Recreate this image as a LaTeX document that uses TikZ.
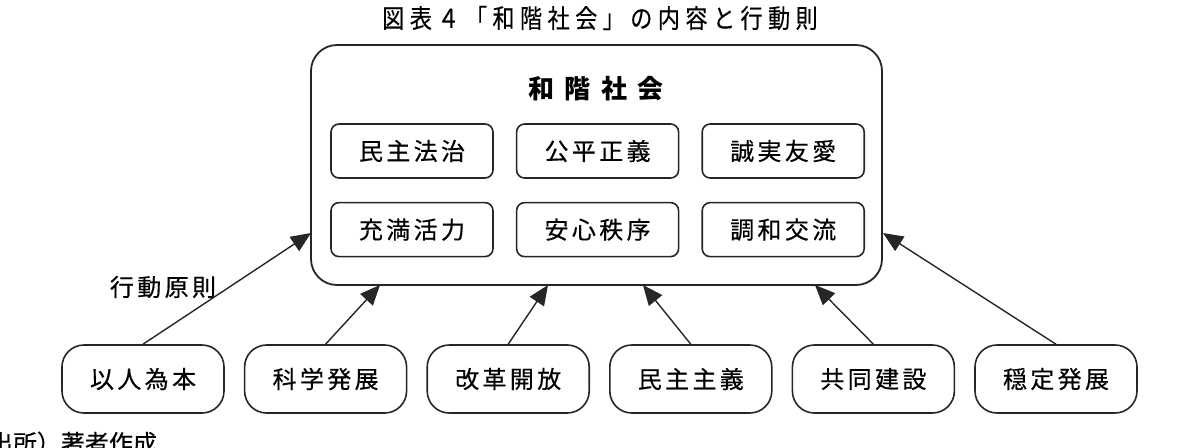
\documentclass[tikz,border=0pt]{standalone}
\usepackage{fontspec}
\setmainfont{Noto Sans CJK JP}
\newfontfamily\boxfont[LetterSpace=14, FakeBold=0.4]{Noto Sans CJK JP}
\newfontfamily\headfont[LetterSpace=40]{Noto Sans CJK JP}
\newfontfamily\titlefont[LetterSpace=21, FakeStretch=0.85, FakeBold=0.3]{Noto Sans CJK JP}
\newfontfamily\notefont[FakeBold=0.3]{Noto Sans CJK JP}
\usetikzlibrary{arrows.meta, positioning}
\tikzset{
  society/.style={rectangle, rounded corners=13pt, draw=black!85, line width=0.9pt,
                  minimum width=285.5pt, minimum height=120pt},
  value/.style={rectangle, rounded corners=4pt, draw=black!85, line width=0.8pt,
                minimum width=81pt, minimum height=27pt, inner sep=0pt,
                font=\boxfont\fontsize{12pt}{14pt}\selectfont},
  principle/.style={rectangle, rounded corners=11pt, draw=black!85, line width=0.8pt,
                    minimum width=81pt, minimum height=34pt, inner sep=0pt,
                    font=\boxfont\fontsize{12pt}{14pt}\selectfont},
  arrow/.style={-{Triangle[length=10pt, width=8.5pt]}, line width=0.7pt, black!85},
}

\begin{document}
\begin{tikzpicture}[x=0.5pt, y=-0.5pt, node distance=11.5pt and 11pt]
  \useasboundingbox (0,0) rectangle (1180,447);

  % --- Title ---
  \node[font=\titlefont\fontsize{13pt}{15pt}\selectfont] (title) at (600,18)
        {図表４「和階社会」の内容と行動則};

  % --- Society box ---
  \node[society] (soc) at (596.5,165) {};
  \node[font=\headfont\bfseries\fontsize{13pt}{15pt}\selectfont] (soctitle) at (596,89) {和階社会};

  % --- Contents ---
  \node[value] (a1) at (412,151) {民主法治};
  \node[value, right=of a1] (a2) {公平正義};
  \node[value, right=of a2] (a3) {誠実友愛};
  \node[value, below=of a1] (b1) {充満活力};
  \node[value, below=of a2] (b2) {安心秩序};
  \node[value, below=of a3] (b3) {調和交流};

  % --- Principles ---
  \node[principle] (p1) at (143,379) {以人為本};
  \node[principle, right=9.5pt of p1] (p2) {科学発展};
  \node[principle, right=9.5pt of p2] (p3) {改革開放};
  \node[principle, right=9.5pt of p3] (p4) {民主主義};
  \node[principle, right=9.5pt of p4] (p5) {共同建設};
  \node[principle, right=9.5pt of p5] (p6) {穏定発展};

  \node[font=\boxfont\fontsize{12pt}{14pt}\selectfont] (rule) at (163,287) {行動原則};
  \node[font=\notefont\fontsize{12pt}{14pt}\selectfont, anchor=east] (src) at (164,443) {出所）著者作成};

  % --- Arrow targets on the box ---
  \coordinate (t1) at (311,233);
  \coordinate (t2) at (380,285);
  \coordinate (t3) at (548,285);
  \coordinate (t4) at (643,285);
  \coordinate (t5) at (815,285);
  \coordinate (t6) at (883,233);

  % --- Arrows ---
  \draw[arrow] (p1.north) -- (t1);
  \draw[arrow] (p2.north) -- (t2);
  \draw[arrow] (p3.north) -- (t3);
  \draw[arrow] (p4.north) -- (t4);
  \draw[arrow] (p5.north) -- (t5);
  \draw[arrow] (p6.north) -- (t6);

\end{tikzpicture}
\end{document}
